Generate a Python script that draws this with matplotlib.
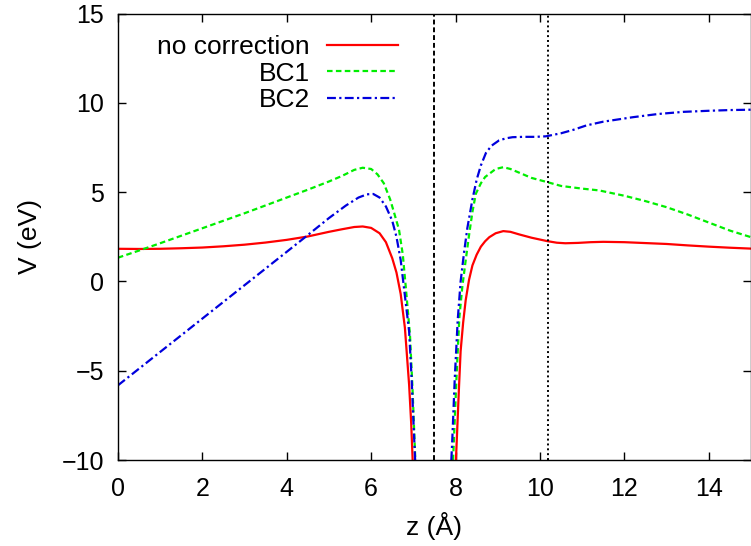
import matplotlib
matplotlib.use("Agg")
import matplotlib.pyplot as plt

plt.rcParams['font.family'] = ['Liberation Sans', 'DejaVu Sans']
plt.rcParams['font.size'] = 18

# Potential profiles V(z) across the interface, each split into the branch
# left and right of the singular region
red_z_left = [0, 0.5, 1, 1.5, 2, 2.5, 3, 3.5, 4, 4.5, 5, 5.3, 5.6, 5.8, 6.0, 6.2,
              6.35, 6.5, 6.6, 6.7, 6.8, 6.9, 6.95, 7.0]
red_v_left = [1.83, 1.82, 1.83, 1.86, 1.9, 1.97, 2.06, 2.18, 2.33, 2.52, 2.78, 2.92,
              3.05, 3.08, 3.0, 2.7, 2.2, 1.3, 0.5, -0.7, -2.6, -5.8, -8.0, -11.0]
red_z_right = [7.97, 8.02, 8.08, 8.12, 8.18, 8.24, 8.32, 8.4, 8.5, 8.6, 8.7, 8.8, 8.95,
               9.13, 9.3, 9.5, 9.8, 10.17, 10.4, 10.6, 10.9, 11.2, 11.5, 12, 12.5, 13,
               13.5, 14, 14.5, 15]
red_v_right = [-12, -9.4, -6, -3.9, -2.3, -1.05, 0.1, 0.9, 1.5, 1.95, 2.25, 2.48, 2.7,
               2.82, 2.78, 2.64, 2.45, 2.26, 2.17, 2.14, 2.16, 2.2, 2.22, 2.2, 2.15,
               2.1, 2.02, 1.95, 1.89, 1.84]

bc1_z_left = [0, 0.5, 1, 1.5, 2, 2.5, 3, 3.5, 4, 4.5, 5, 5.3, 5.6, 5.8, 6.0, 6.15,
              6.3, 6.45, 6.55, 6.66, 6.75, 6.82, 6.92, 6.98, 7.03, 7.08]
bc1_v_left = [1.33, 1.73, 2.14, 2.56, 2.98, 3.4, 3.82, 4.26, 4.7, 5.14, 5.6, 5.9,
              6.25, 6.37, 6.3, 6.0, 5.5, 4.6, 3.8, 2.9, 1.5, -0.3, -3.0, -6.0,
              -9.0, -12]
bc1_z_right = [7.9, 7.95, 8.02, 8.09, 8.16, 8.24, 8.32, 8.4, 8.48, 8.6, 8.7, 8.8,
               8.95, 9.13, 9.3, 9.5, 9.8, 10.18, 10.5, 11, 11.4, 12, 12.5, 13, 13.5,
               14, 14.5, 15]
bc1_v_right = [-12, -9.5, -5.5, -2.0, -0.3, 1.18, 2.6, 3.9, 4.91, 5.5, 5.85, 6.03,
               6.3, 6.4, 6.3, 6.1, 5.8, 5.56, 5.35, 5.2, 5.1, 4.8, 4.5, 4.16, 3.75,
               3.3, 2.85, 2.48]

bc2_z_left = [0, 1, 2, 3, 4, 4.5, 5, 5.4, 5.7, 5.9, 6.05, 6.2, 6.35, 6.5, 6.6, 6.7,
              6.8, 6.9, 6.96, 7.02, 7.08]
bc2_v_left = [-5.82, -3.95, -2.08, -0.21, 1.66, 2.6, 3.55, 4.25, 4.7, 4.88, 4.9,
              4.7, 4.2, 3.4, 2.5, 1.2, -0.8, -2.8, -5.5, -8.8, -12]
bc2_z_right = [7.86, 7.92, 7.98, 8.05, 8.12, 8.2, 8.28, 8.4, 8.5, 8.6, 8.72, 8.85,
               9.03, 9.2, 9.35, 9.6, 9.9, 10.14, 10.5, 10.8, 11.1, 11.5, 12.2, 12.8,
               13.4, 14, 14.5, 15]
bc2_v_right = [-12, -9, -5.5, -2.2, 0, 1.6, 3.0, 4.6, 5.7, 6.5, 7.2, 7.6, 7.9, 8.02,
               8.08, 8.1, 8.1, 8.13, 8.3, 8.5, 8.74, 8.95, 9.2, 9.38, 9.5, 9.56,
               9.6, 9.62]

series_labels = ["no correction", "BC1", "BC2"]
interface_z = 7.5
boundary_z = 10.2

x_ticks = [0, 2, 4, 6, 8, 10, 12, 14]
y_ticks = [-10, -5, 0, 5, 10, 15]

fig = plt.figure(figsize=(7.51, 5.46), dpi=100)
ax = fig.add_axes([0.157, 0.1575, 0.843, 0.8175])

red = "#ff0000"
green = "#00ee00"
blue = "#0000dd"

ax.plot(red_z_left, red_v_left, color=red, lw=1.6, label=series_labels[0])
ax.plot(red_z_right, red_v_right, color=red, lw=1.6)
ax.plot(bc1_z_left, bc1_v_left, color=green, lw=1.6, dashes=(2.5, 1.5),
        label=series_labels[1])
ax.plot(bc1_z_right, bc1_v_right, color=green, lw=1.6, dashes=(2.5, 1.5))
ax.plot(bc2_z_left, bc2_v_left, color=blue, lw=1.6, dashes=(4, 1.5, 1, 1.5),
        label=series_labels[2])
ax.plot(bc2_z_right, bc2_v_right, color=blue, lw=1.6, dashes=(4, 1.5, 1, 1.5))

ax.axvline(interface_z, color="black", lw=1.4, dashes=(2.5, 1.5))
ax.axvline(boundary_z, color="black", lw=1.4, dashes=(1, 1.5))

ax.set_xlim(0, 15)
ax.set_ylim(-10, 15)
ax.set_xticks(x_ticks)
ax.set_yticks(y_ticks)
ax.tick_params(direction="in", length=6, width=1, top=True, right=True,
               labelsize=18)
ax.tick_params(axis="x", pad=12)
ax.tick_params(axis="y", pad=10)
for s in ax.spines.values():
    s.set_linewidth(1.0)

ax.set_xlabel("z (Å)", fontsize=19, labelpad=8)
ax.set_ylabel("V (eV)", fontsize=19, labelpad=14)

leg = ax.legend(loc="upper right", bbox_to_anchor=(0.443, 0.952), frameon=False,
                markerfirst=False, fontsize=19, handlelength=2.7,
                handletextpad=0.65, labelspacing=0.1, borderaxespad=0.0,
                borderpad=0.0)
leg._legend_box.align = "right"
for t in leg.get_texts():
    t.set_horizontalalignment("right")

fig.savefig("out.png", dpi=100)
